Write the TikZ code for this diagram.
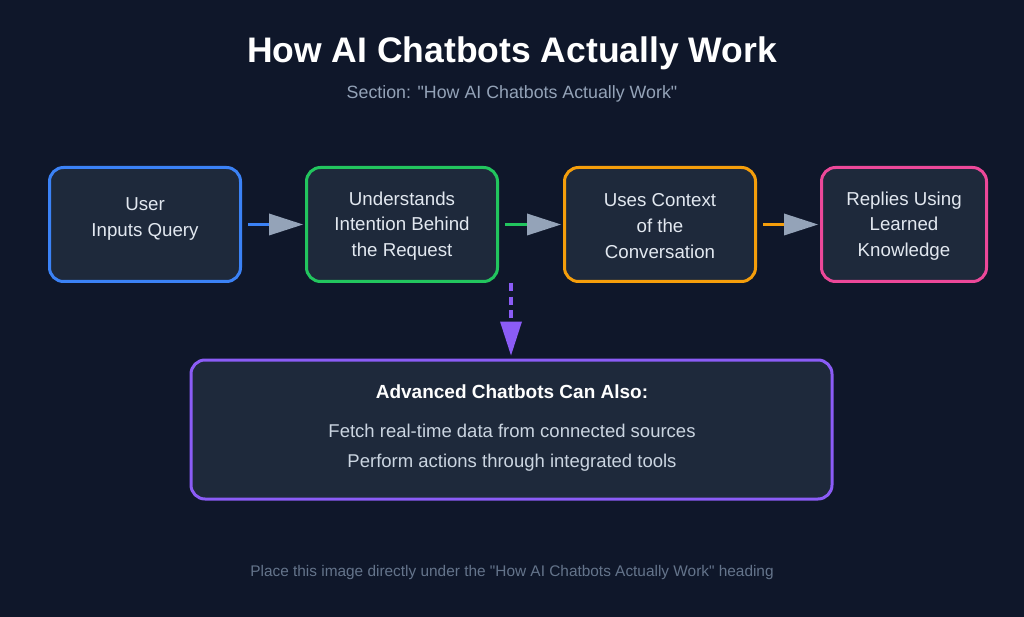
\documentclass[tikz,border=0pt]{standalone}
\usepackage{fontspec}
\setmainfont{Liberation Sans}[Ligatures=TeXOff]
\usetikzlibrary{arrows.meta}
\definecolor{bg}{HTML}{0F172A}
\definecolor{boxfill}{HTML}{1E293B}
\definecolor{cblue}{HTML}{3B82F6}
\definecolor{cgreen}{HTML}{22C55E}
\definecolor{corange}{HTML}{F59E0B}
\definecolor{cpink}{HTML}{EC4899}
\definecolor{cpurple}{HTML}{8B5CF6}
\definecolor{arrowgray}{HTML}{94A3B8}
\definecolor{subgray}{HTML}{94A3B8}
\definecolor{boxtext}{HTML}{E2E8F0}
\definecolor{linetext}{HTML}{CBD5E1}
\definecolor{footgray}{HTML}{64748B}
\begin{document}
\begin{tikzpicture}[x=1pt,y=-1pt,
  stepbox/.style={draw, line width=3pt, fill=boxfill, rounded corners=14pt, minimum width=191pt, minimum height=114pt, inner sep=0pt},
  boxtxt/.style={text=boxtext, align=center, font=\fontsize{18.7}{25.8}\selectfont, inner sep=0pt},
  flow/.style={line width=3pt, shorten <=6pt, shorten >=2pt, -{Triangle[length=34pt,width=22pt,color=arrowgray,line width=0pt]}}
]
\fill[bg] (0,0) rectangle (1024,617);
\useasboundingbox (0,0) rectangle (1024,617);

\node[text=white, font=\fontsize{35.5}{40}\selectfont\bfseries, inner sep=0pt] (title) at (512,53) {How AI Chatbots Actually Work};
\node[text=subgray, font=\fontsize{17.8}{22}\selectfont, inner sep=0pt] (sub) at (512,94) {Section: "How AI Chatbots Actually Work"};

\node[stepbox, draw=cblue] (b1) at (145,224.5) {};
\node[stepbox, draw=cgreen] (b2) at (402,224.5) {};
\node[stepbox, draw=corange] (b3) at (660,224.5) {};
\node[stepbox, draw=cpink, minimum width=165pt] (b4) at (904,224.5) {};

\node[boxtxt] (t1) at (145,219) {User\\Inputs Query};
\node[boxtxt] (t2) at (402,226) {Understands\\Intention Behind\\the Request};
\node[boxtxt] (t3) at (660,226) {Uses Context\\of the\\Conversation};
\node[boxtxt] (t4) at (904,226) {Replies Using\\Learned\\Knowledge};

\draw[flow, cblue] (b1.east) -- (b2.west);
\draw[flow, cgreen] (b2.east) -- (b3.west);
\draw[flow, corange] (b3.east) -- (b4.west);

\node[draw=cpurple, line width=3pt, fill=boxfill, rounded corners=14pt, minimum width=641pt, minimum height=139pt, inner sep=0pt] (adv) at (511.5,429.5) {};
\node[text=white, font=\fontsize{19}{23}\selectfont\bfseries, inner sep=0pt] (advt) at (512,392) {Advanced Chatbots Can Also:};
\node[text=linetext, font=\fontsize{18.5}{23}\selectfont, inner sep=0pt] (l1) at (512,431) {Fetch real-time data from connected sources};
\node[text=linetext, font=\fontsize{18.5}{23}\selectfont, inner sep=0pt] (l2) at (512,463) {Perform actions through integrated tools};

\coordinate (dstart) at (511,283);
\draw[cpurple, line width=4pt, dash pattern=on 8pt off 5.5pt, shorten >=3pt, -{Triangle[length=34pt,width=22pt,line width=0pt]}] (dstart) -- (dstart |- adv.north);

\node[text=footgray, font=\fontsize{15.4}{18}\selectfont, inner sep=0pt] (foot) at (512,573) {Place this image directly under the "How AI Chatbots Actually Work" heading};
\end{tikzpicture}
\end{document}
